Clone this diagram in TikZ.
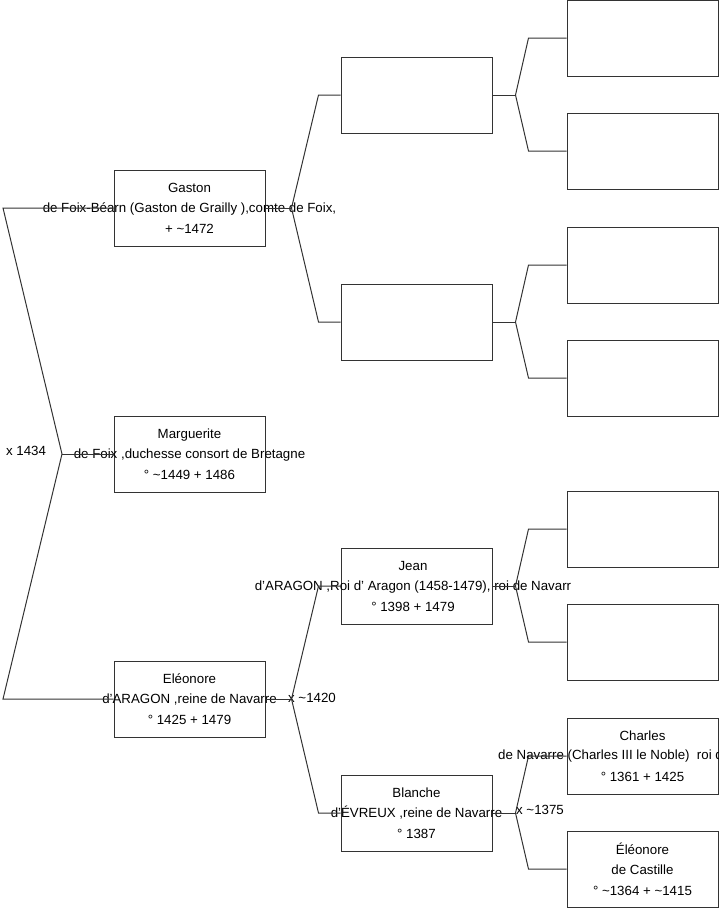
\documentclass[tikz,border=0pt]{standalone}
\usepackage{fontspec}
\setmainfont{Liberation Sans}
\begin{document}
\begin{tikzpicture}[x=1pt,y=-1pt,
  box/.style={draw=black!80,line width=1pt,rectangle,inner sep=0pt,minimum width=151pt,minimum height=76pt},
  txt/.style={align=center,inner sep=0pt,font=\fontsize{13.3}{20.5}\selectfont},
  lbl/.style={inner sep=0pt,font=\fontsize{13.3}{15}\selectfont},
  conn/.style={draw=black!80,line width=1pt}]
\useasboundingbox (0,0) rectangle (719,908);
% column 1
\node[box] (g) at (189.5,208) {};
\node[box] (m) at (189.5,454) {};
\node[box] (e) at (189.5,699) {};
% column 2
\node[box] (a) at (416.5,95) {};
\node[box] (b) at (416.5,322) {};
\node[box] (j) at (416.5,586) {};
\node[box] (bl) at (416.5,813) {};
% column 3
\node[box] (c1) at (642.5,38) {};
\node[box] (c2) at (642.5,151) {};
\node[box] (c3) at (642.5,265) {};
\node[box] (c4) at (642.5,378) {};
\node[box] (c5) at (642.5,529) {};
\node[box] (c6) at (642.5,642) {};
\node[box] (c7) at (642.5,756) {};
\node[box] (c8) at (642.5,869) {};
% texts
\node[txt] (gt) at (g) {Gaston\\de Foix-Béarn (Gaston de Grailly ),comte de Foix,\\+ \textasciitilde1472};
\node[txt] (mt) at (m) {Marguerite\\de Foix ,duchesse consort de Bretagne\\° \textasciitilde1449 + 1486};
\node[txt] (et) at (e) {Eléonore\\d'ARAGON ,reine de Navarre\\° 1425 + 1479};
\node[txt] (jt) at (413,586) {Jean\\d'ARAGON ,Roi d' Aragon (1458-1479), roi de Navarr\\° 1398 + 1479};
\node[txt] (blt) at (bl) {Blanche\\d'ÉVREUX ,reine de Navarre\\° 1387};
\node[txt] (c7a) at (642.5,735.5) {Charles};
\node[lbl,anchor=west] (c7b) at (498,756) {de Navarre (Charles III le Noble)\ \ roi de Navarre};
\node[txt] (c7c) at (642.5,776.5) {° 1361 + 1425};
\node[txt] (c8t) at (c8) {Éléonore\\de Castille\\° \textasciitilde1364 + \textasciitilde1415};
% marriage labels
\node[lbl] (x1) at (26,451) {x 1434};
\node[lbl] (x2) at (312,698) {x \textasciitilde1420};
\node[lbl] (x3) at (540,810) {x \textasciitilde1375};
% coordinates
\coordinate (r1) at (3,208);
\coordinate (fx) at (62,454);
\coordinate (r2) at (3,699);
\coordinate (gf) at ([xshift=26]g.east);
\coordinate (ef) at ([xshift=26]e.east);
\coordinate (af) at ([xshift=23]a.east);
\coordinate (bf) at ([xshift=23]b.east);
\coordinate (jf) at ([xshift=23]j.east);
\coordinate (blf) at ([xshift=23]bl.east);
% connectors
\draw[conn] (g.west) -- (r1) -- (fx) -- (r2) -- (e.west);
\draw[conn] (fx) -- (m.west);
\draw[conn] (g.east) -- (gf);
\draw[conn] (gf) -- ([xshift=-22]a.west) -- (a.west);
\draw[conn] (gf) -- ([xshift=-22]b.west) -- (b.west);
\draw[conn] (e.east) -- (ef);
\draw[conn] (ef) -- ([xshift=-22]j.west) -- (j.west);
\draw[conn] (ef) -- ([xshift=-22]bl.west) -- (bl.west);
\draw[conn] (a.east) -- (af);
\draw[conn] (af) -- ([xshift=-38]c1.west) -- (c1.west);
\draw[conn] (af) -- ([xshift=-38]c2.west) -- (c2.west);
\draw[conn] (b.east) -- (bf);
\draw[conn] (bf) -- ([xshift=-38]c3.west) -- (c3.west);
\draw[conn] (bf) -- ([xshift=-38]c4.west) -- (c4.west);
\draw[conn] (j.east) -- (jf);
\draw[conn] (jf) -- ([xshift=-38]c5.west) -- (c5.west);
\draw[conn] (jf) -- ([xshift=-38]c6.west) -- (c6.west);
\draw[conn] (bl.east) -- (blf);
\draw[conn] (blf) -- ([xshift=-38]c7.west) -- (c7.west);
\draw[conn] (blf) -- ([xshift=-38]c8.west) -- (c8.west);
\end{tikzpicture}
\end{document}
